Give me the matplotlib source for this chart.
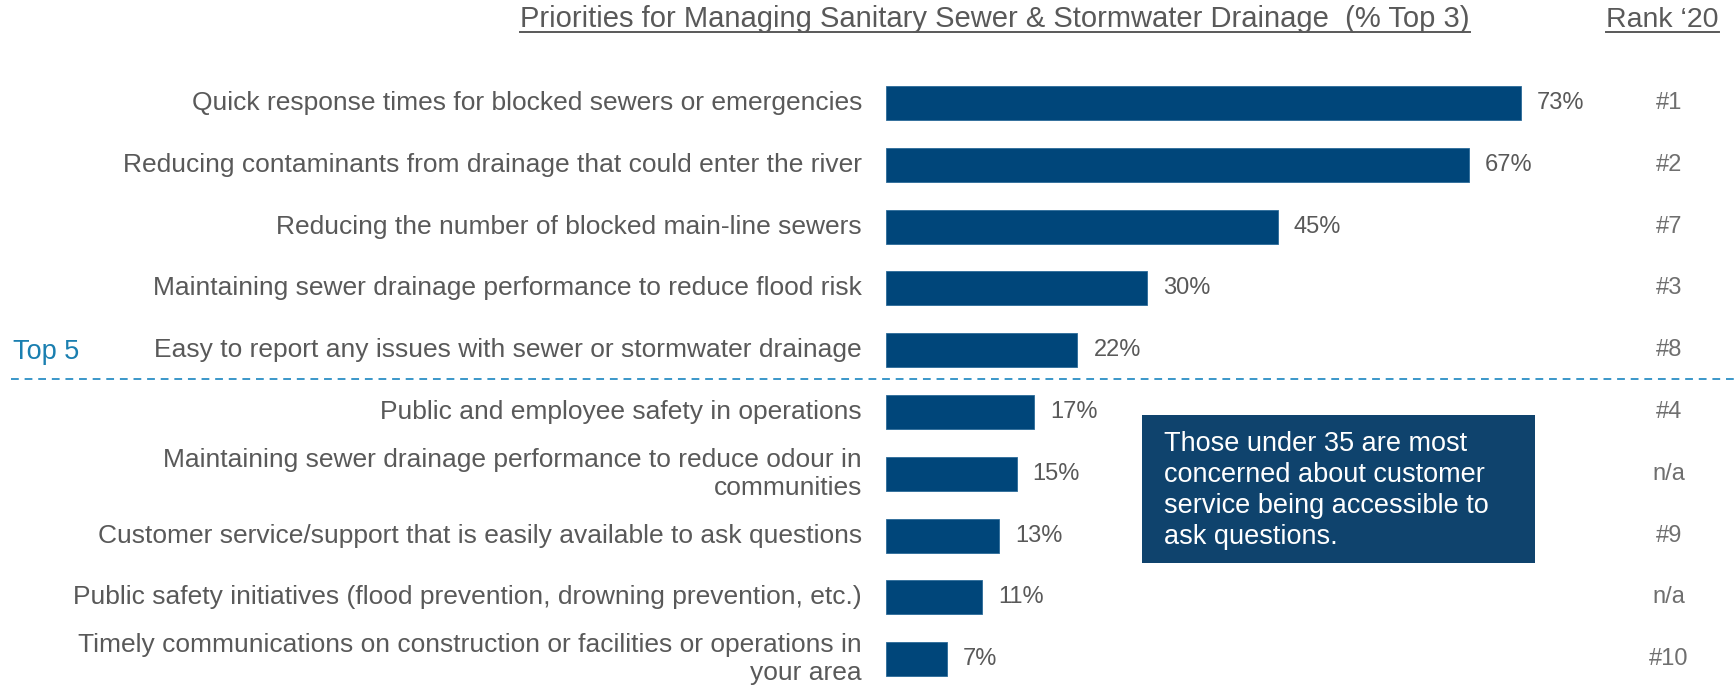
import matplotlib.pyplot as plt
from matplotlib.lines import Line2D
from matplotlib.patches import Rectangle

plt.rcParams['font.family'] = ['Liberation Sans', 'DejaVu Sans']

# Survey results: share of respondents ranking each item in their top 3
priorities = [
    'Quick response times for blocked sewers or emergencies',
    'Reducing contaminants from drainage that could enter the river',
    'Reducing the number of blocked main-line sewers',
    'Maintaining sewer drainage performance to reduce flood risk',
    'Easy to report any issues with sewer or stormwater drainage',
    'Public and employee safety in operations',
    'Maintaining sewer drainage performance to reduce odour in\ncommunities',
    'Customer service/support that is easily available to ask questions',
    'Public safety initiatives (flood prevention, drowning prevention, etc.)',
    'Timely communications on construction or facilities or operations in\nyour area',
]
pct_top3 = [73, 67, 45, 30, 22, 17, 15, 13, 11, 7]
rank_2020 = ['#1', '#2', '#7', '#3', '#8', '#4', 'n/a', '#9', 'n/a', '#10']

BAR = '#00467a'
GREY = '#595959'
RANK_GREY = '#6f6f6f'
ACCENT = '#1a7fb0'

W, H = 1734, 686
fig = plt.figure(figsize=(W / 100, H / 100), dpi=100)

# axes: x=0 sits at 886px, about 8.7px per percent; rows 61.8px apart
x0, ppp = 886, 8.7
ax = fig.add_axes([x0 / W, 0, (W - x0) / W, 1])
ax.set_xlim(0, (W - x0) / ppp)
row0, step = 103, 61.8
ax.set_ylim((H - row0) / step, -row0 / step)
ax.axis('off')

ypos = list(range(len(pct_top3)))
ax.barh(ypos, pct_top3, height=0.55, color=BAR, edgecolor='#2b6a99', linewidth=0.6)

for y, label, v, r in zip(ypos, priorities, pct_top3, rank_2020):
    ax.text(-2.75, y, label, ha='right', va='center', multialignment='right',
            fontsize=19, color=GREY, linespacing=1.22, clip_on=False)
    ax.text(v + 1.85, y, f'{v}%', ha='left', va='center', fontsize=17, color=GREY)
    ax.text(90.0, y, r, ha='center', va='center', fontsize=17, color=RANK_GREY)

# divider between the top five and the rest
fig.add_artist(Line2D([11 / W, 1], [1 - 379 / H] * 2, color='#3a97c9',
                      linestyle=(0, (4, 3)), linewidth=1.4))
fig.text(13 / W, 1 - 352 / H, 'Top 5', ha='left', va='center',
         fontsize=19.5, color=ACCENT)

# underlined headers
headers = [
    (520, 'Priorities for Managing Sanitary Sewer & Stormwater Drainage  (% Top 3)', 21),
    (1606, 'Rank \u201820', 20.5),
]
fig.canvas.draw()
renderer = fig.canvas.get_renderer()
for px, txt, fs in headers:
    t = fig.text(px / W, 1 - 27 / H, txt, ha='left', va='baseline',
                 fontsize=fs, color=GREY)
    bb = t.get_window_extent(renderer)
    yline = 1 - 32 / H
    fig.add_artist(Line2D([bb.x0 / W, bb.x1 / W], [yline, yline],
                          color=GREY, linewidth=1.4))

# call-out box
bx0, bx1, by0, by1 = 1142, 1535, 415, 563
fig.add_artist(Rectangle((bx0 / W, 1 - by1 / H), (bx1 - bx0) / W, (by1 - by0) / H,
                         facecolor='#0f436d', edgecolor='none',
                         transform=fig.transFigure))
fig.text(1164 / W, 1 - 431 / H,
         'Those under 35 are most\nconcerned about customer\n'
         'service being accessible to\nask questions.',
         ha='left', va='top', fontsize=19.5, color='white', linespacing=1.25)

fig.savefig('out.png', dpi=100, facecolor='white')
